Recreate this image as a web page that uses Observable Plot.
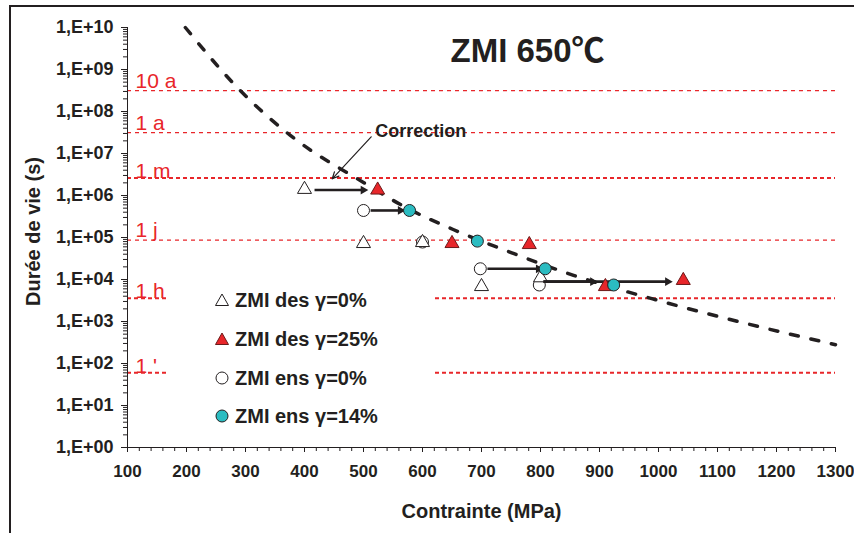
<!DOCTYPE html>
<html><head><meta charset="utf-8">
<script src="https://cdn.jsdelivr.net/npm/d3@7"></script>
<script src="https://cdn.jsdelivr.net/npm/@observablehq/plot@0.6"></script>
<style>
body{margin:0;background:#fff;}
#wrap{position:relative;width:854px;height:533px;overflow:hidden;font-family:"Liberation Sans",Arial,"Noto Sans CJK SC",sans-serif;color:#231f20;}
#wrap > svg{position:absolute;left:0;top:0;}
#border{position:absolute;left:9px;top:5px;width:900px;height:600px;border-left:2px solid #231f20;border-top:2px solid #231f20;pointer-events:none;}
#legend{position:absolute;left:166px;top:286px;width:268px;height:142px;background:#fff;}
#legend .lrow{position:absolute;left:0;width:268px;height:20px;}
#legend .lrow svg{position:absolute;left:48px;top:2px;}
#legend .lrow span{position:absolute;left:69px;top:-1px;font-size:20px;font-weight:bold;white-space:nowrap;line-height:22px;}
</style></head>
<body><div id="wrap"></div>
<script>
// ---- data ----
const desX0 = [400, 500, 600, 700, 800];
const desY0 = [1.4e6, 7.2e4, 7.6e4, 6.8e3, 1.1e4];
const desX25 = [524, 650, 781, 910, 1042];
const desY25 = [1.35e6, 7.2e4, 6.8e4, 6.8e3, 9.5e3];
const ensX0 = [500, 600, 698, 798];
const ensY0 = [4.4e5, 7.8e4, 1.8e4, 7.4e3];
const ensX14 = [578, 693, 808, 924];
const ensY14 = [4.4e5, 8.2e4, 1.8e4, 7.4e3];

const curveS = [198, 291, 376, 500, 575, 652, 754, 856, 995, 1101, 1300];
const curveT = [1e10, 3.16e8, 2.7e7, 2.04e6, 4.9e5, 1.55e5, 4.17e4, 1.26e4, 3.3e3, 1.32e3, 2.8e2];

const arrowX1 = [417, 512, 710, 805, 805];
const arrowX2 = [508, 571, 805, 897, 1024];
const arrowY  = [1.35e6, 4.4e5, 1.8e4, 8.9e3, 8.9e3];

const refLabels = ["10 a", "1 a", "1 m", "1 j", "1 h", "1 '"];
const refValues = [3.15e8, 3.15e7, 2.6e6, 86400, 3600, 60];
const refThick  = [false, false, true, false, true, true];

const yTickValues = [1, 1e1, 1e2, 1e3, 1e4, 1e5, 1e6, 1e7, 1e8, 1e9, 1e10];
const yTickLabels = ["1,E+00","1,E+01","1,E+02","1,E+03","1,E+04","1,E+05","1,E+06","1,E+07","1,E+08","1,E+09","1,E+10"];
const xTickValues = [100,200,300,400,500,600,700,800,900,1000,1100,1200,1300];

const title = "ZMI 650℃";
const xLabel = "Contrainte (MPa)";
const yLabel = "Durée de vie (s)";
const corrLabel = "Correction";
const corrText = {x: 597, y: 3.3e7};
const corrArrow = {x1: 513, y1: 2.5e7, x2: 447, y2: 2.5e6};

const legendLabels = ["ZMI des γ=0%", "ZMI des γ=25%", "ZMI ens γ=0%", "ZMI ens γ=14%"];

// ---- build ----
const red = "#e8262a";
const ink = "#231f20";
const cyan = "#2bbcc1";
const zip = (xs, ys) => xs.map((x, i) => ({x, y: ys[i]}));
const des0 = zip(desX0, desY0), des25 = zip(desX25, desY25);
const ens0 = zip(ensX0, ensY0), ens14 = zip(ensX14, ensY14);
const curve = zip(curveS, curveT);
const arrows = arrowX1.map((x1, i) => ({x1, x2: arrowX2[i], y: arrowY[i]}));
const refs = refLabels.map((label, i) => ({label, v: refValues[i], thick: refThick[i]}));

const yMinor = [];
for (let e = 0; e < 10; e++) for (let k = 2; k <= 9; k++) yMinor.push(k * 10 ** e);
const xMinor = d3.range(100, 1301, 20).filter(v => v % 100 !== 0);

const chart = Plot.plot({
  width: 854, height: 533,
  marginLeft: 127, marginRight: 19, marginTop: 27, marginBottom: 86,
  style: {fontFamily: '"Liberation Sans", Arial, "Noto Sans CJK SC", sans-serif', color: ink, background: "transparent", overflow: "visible"},
  x: {domain: [100, 1300]},
  y: {type: "log", domain: [1, 1e10]},
  marks: [
    Plot.ruleY(refs.filter(d => !d.thick), {y: "v", stroke: red, strokeWidth: 1.3, strokeDasharray: "4,4"}),
    Plot.ruleY(refs.filter(d => d.thick), {y: "v", stroke: red, strokeWidth: 2, strokeDasharray: "4,3"}),
    Plot.text(refs.filter(d => !d.thick), {x: 100, y: "v", text: "label", textAnchor: "start", lineAnchor: "bottom", dx: 8, dy: -3, fill: red, fontSize: 21}),
    Plot.text(refs.filter(d => d.thick), {x: 100, y: "v", text: "label", textAnchor: "start", lineAnchor: "bottom", dx: 8, dy: 0, fill: red, fontSize: 21}),
    Plot.line(curve, {x: "x", y: "y", curve: "monotone-x", stroke: ink, strokeWidth: 3.5, strokeDasharray: "8,13"}),
    Plot.axisY({ticks: yTickValues, tickFormat: d => yTickLabels[Math.round(Math.log10(d))], tickSize: 6, tickPadding: 8, fontSize: 18, fontWeight: "bold", label: null}),
    Plot.axisY({ticks: yMinor, tickFormat: () => "", tickSize: 4, label: null}),
    Plot.axisX({ticks: xTickValues, tickFormat: d => String(d), tickSize: 5, tickPadding: 12, fontSize: 17, fontWeight: "bold", label: null}),
    Plot.axisX({ticks: xMinor, tickFormat: () => "", tickSize: 4, label: null}),
    Plot.ruleX([100], {stroke: ink}),
    Plot.ruleY([1], {stroke: ink}),
    Plot.text([xLabel], {frameAnchor: "bottom", lineAnchor: "middle", dy: 64, fontSize: 20, fontWeight: "bold", fill: ink}),
    Plot.text([yLabel], {frameAnchor: "left", textAnchor: "middle", lineAnchor: "middle", dx: -94, dy: -6, rotate: -90, fontSize: 20, fontWeight: "bold", fill: ink}),
    Plot.text([title], {frameAnchor: "top", lineAnchor: "middle", dx: 46, dy: 24, fontSize: 33, fontWeight: "bold", fill: ink}),
    Plot.arrow([corrArrow], {x1: "x1", y1: "y1", x2: "x2", y2: "y2", stroke: ink, strokeWidth: 1.2, headLength: 9, headAngle: 50}),
    Plot.text([corrText], {x: "x", y: "y", text: () => corrLabel, fontSize: 18, fontWeight: "bold", fill: ink}),
    Plot.dot(ens0, {x: "x", y: "y", r: 6, fill: "white", stroke: ink, strokeWidth: 1}),
    Plot.dot(des0, {x: "x", y: "y", symbol: "triangle", r: 5.2, fill: "white", stroke: ink, strokeWidth: 1}),
    Plot.link(arrows, {x1: "x1", x2: d => d.x2 - 8, y1: "y", y2: "y", stroke: ink, strokeWidth: 2.6}),
    Plot.dot(arrows, {x: "x2", y: "y", dx: -5, symbol: "triangle2", rotate: 90, r: 4.2, fill: ink}),
    Plot.dot(des25, {x: "x", y: "y", symbol: "triangle", r: 5.2, fill: red, stroke: "#6b1a1a", strokeWidth: 1}),
    Plot.dot(ens14, {x: "x", y: "y", r: 6, fill: cyan, stroke: ink, strokeWidth: 1})
  ]
});
const wrap = document.getElementById("wrap");
wrap.appendChild(chart);

// legend
const legend = document.createElement("div");
legend.id = "legend";
const rowsY = [300, 339, 378, 416];
const symSvg = [
  `<polygon points="8,2 14.5,13.5 1.5,13.5" fill="white" stroke="${ink}" stroke-width="1"/>`,
  `<polygon points="8,2 14.5,13.5 1.5,13.5" fill="${red}" stroke="#6b1a1a" stroke-width="1"/>`,
  `<circle cx="8" cy="8" r="6" fill="white" stroke="${ink}" stroke-width="1"/>`,
  `<circle cx="8" cy="8" r="6" fill="${cyan}" stroke="${ink}" stroke-width="1"/>`
];
legendLabels.forEach((lab, i) => {
  const row = document.createElement("div");
  row.className = "lrow";
  row.style.top = (rowsY[i] - 286 - 10) + "px";
  row.innerHTML = `<svg width="16" height="16" viewBox="0 0 16 16">${symSvg[i]}</svg><span>${lab}</span>`;
  legend.appendChild(row);
});
wrap.appendChild(legend);
const border = document.createElement("div");
border.id = "border";
wrap.appendChild(border);
</script>
</body></html>
